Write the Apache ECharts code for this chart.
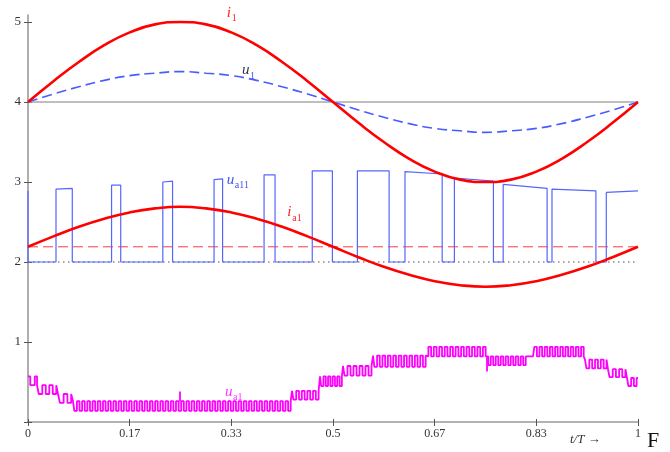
<!DOCTYPE html>
<html><head><meta charset="utf-8">
<script src="https://cdn.jsdelivr.net/npm/echarts@6/dist/echarts.min.js"></script>
<style>html,body{margin:0;padding:0;background:#fff}#c{width:670px;height:452px}</style>
</head><body><div id="c"></div>
<script>
// ---- data ----
const xTickValues = [0, 1/6, 2/6, 0.5, 4/6, 5/6, 1];
const xTickLabels = ['0', '0.17', '0.33', '0.5', '0.67', '0.83', '1'];
const yTickValues = [0, 1, 2, 3, 4, 5];
const yLabelValues = [1, 2, 3, 4, 5];

const tSamples = [0,0.0417,0.0833,0.125,0.1667,0.2083,0.25,0.2917,0.3333,0.375,0.4167,0.4583,0.5,
  0.5417,0.5833,0.625,0.6667,0.7083,0.75,0.7917,0.8333,0.875,0.9167,0.9583,1];
const i1Values = [4.00,4.26,4.50,4.71,4.87,4.97,5.00,4.97,4.87,4.71,4.50,4.26,4.00,
  3.74,3.50,3.29,3.13,3.03,3.00,3.03,3.13,3.29,3.50,3.74,4.00];
const u1Values = [4.00,4.10,4.19,4.27,4.33,4.36,4.38,4.36,4.33,4.27,4.19,4.10,4.00,
  3.90,3.81,3.73,3.67,3.64,3.62,3.64,3.67,3.73,3.81,3.90,4.00];
const ia1Values = [2.19,2.32,2.44,2.54,2.62,2.67,2.69,2.67,2.62,2.54,2.44,2.32,2.19,
  2.06,1.94,1.84,1.76,1.71,1.69,1.71,1.76,1.84,1.94,2.06,2.19];

const refLine4 = 4;
const refLine2 = 2;
const ia1Mean = 2.19;

// u_a11 pulses: [rise t, fall t, top at rise, top at fall]; low level 2
const ua11Low = 2;
const ua11Start = 2.89;
const ua11Pulses = [
  [0.0459,0.0726,2.91,2.92],
  [0.137,0.152,2.96,2.96],
  [0.221,0.237,3.00,3.01],
  [0.305,0.319,3.03,3.04],
  [0.387,0.405,3.09,3.09],
  [0.466,0.499,3.14,3.14],
  [0.540,0.592,3.14,3.14],
  [0.618,0.679,3.13,3.10],
  [0.699,0.763,3.05,3.01],
  [0.779,0.851,2.97,2.92],
  [0.859,0.931,2.91,2.89],
  [0.948,1.000,2.87,2.89]
];

// u_a1 staircase segments: [t start, t end, base level, switched level, pulse count]
const ua1Segments = [
  [0.0000,0.0148,0.57,0.46,1],
  [0.0148,0.0492,0.46,0.35,3],
  [0.0492,0.0738,0.35,0.24,2],
  [0.0738,0.4328,0.26,0.14,42],
  [0.4328,0.4787,0.39,0.28,5],
  [0.4787,0.5164,0.57,0.45,5],
  [0.5164,0.5656,0.70,0.58,5],
  [0.5656,0.6541,0.83,0.69,10],
  [0.6541,0.7525,0.82,0.94,11],
  [0.7525,0.8180,0.82,0.71,8],
  [0.8180,0.8279,0.82,0.82,0],
  [0.8279,0.9131,0.82,0.94,10],
  [0.9131,0.9508,0.78,0.67,4],
  [0.9508,0.9820,0.66,0.56,3],
  [0.9820,1.0000,0.55,0.45,2]
];
// single spikes: [t, from, to]
const ua1Spikes = [[0.2492,0.26,0.38],[0.7525,0.82,0.63]];

// labels: [t, value, main, sub, colorMain, colorSub]
const curveLabels = [
  [0.326,5.09,'i','1','#ff2020','#ff2020'],
  [0.351,4.375,'u','1','#333355','#4455ee'],
  [0.326,3.01,'u','a11','#4455ee','#4455ee'],
  [0.425,2.60,'i','a1','#ff2020','#ff2020'],
  [0.323,0.36,'u','a1','#ff33ff','#ff33ff']
];

// ---- build series data ----
const zip = (xs, ys) => xs.map((x, i) => [x, ys[i]]);

const ua11Data = [[0, ua11Start], [0, ua11Low]];
ua11Pulses.forEach(([r, f, a, b], i) => {
  ua11Data.push([r, ua11Low], [r, a], [f, b]);
  if (i < ua11Pulses.length - 1) ua11Data.push([f, ua11Low]);
});

const ua1Data = [];
ua1Segments.forEach(([t0, t1, base, alt, n]) => {
  ua1Data.push([t0, base]);
  if (n > 0) {
    const p = (t1 - t0) / n;
    for (let k = 0; k < n; k++) {
      const a = t0 + p * (k + 0.25), b = a + p * 0.5;
      ua1Data.push([a, base], [a, alt], [b, alt], [b, base]);
    }
  }
  ua1Data.push([t1, base]);
});

const base = { type: 'line', symbol: 'none', showSymbol: false, silent: true, animation: false, clip: false };

const series = [
  Object.assign({}, base, { name: 'ref4', data: [[0, refLine4], [1, refLine4]], lineStyle: { color: '#a8a8a8', width: 1.6 }, z: 1 }),
  Object.assign({}, base, { name: 'ref2', data: [[0, refLine2], [1, refLine2]], lineStyle: { color: '#8a8a8a', width: 1.5, type: [1.5, 3.5] }, z: 1 }),
  Object.assign({}, base, { name: 'ia1mean', data: [[0, ia1Mean], [1, ia1Mean]], lineStyle: { color: '#ff3b3b', width: 1, type: [10, 5] }, z: 2 }),
  Object.assign({}, base, { name: 'ua11', data: ua11Data, lineStyle: { color: '#5566ff', width: 1.2 }, z: 3 }),
  Object.assign({}, base, { name: 'u1', data: zip(tSamples, u1Values), smooth: true, lineStyle: { color: '#4a5cff', width: 1.6, type: [10, 5] }, z: 4 }),
  Object.assign({}, base, { name: 'i1', data: zip(tSamples, i1Values), smooth: true, lineStyle: { color: '#ff0000', width: 2.6 }, z: 5 }),
  Object.assign({}, base, { name: 'ia1', data: zip(tSamples, ia1Values), smooth: true, lineStyle: { color: '#ff0000', width: 2.6 }, z: 5 }),
  Object.assign({}, base, { name: 'ua1', data: ua1Data, lineStyle: { color: '#ff00ff', width: 1.8 }, z: 4 })
];
ua1Spikes.forEach(([t, a, b], i) => {
  series.push(Object.assign({}, base, { name: 'spike' + i, data: [[t, a], [t, b]], lineStyle: { color: '#ff00ff', width: 1.8 }, z: 4 }));
});

const serif = '"Liberation Serif", "DejaVu Serif", serif';
const xAxisCommon = {
  type: 'value', min: 0, max: 1, position: 'bottom', splitLine: { show: false }
};
const yAxisCommon = {
  type: 'value', min: 0, max: 5.0875, position: 'left', splitLine: { show: false }
};

const chart = echarts.init(document.getElementById('c'));
chart.setOption({
  animation: false,
  backgroundColor: '#fff',
  grid: { left: 28, right: 32, top: 15, height: 407, containLabel: false, outerBoundsMode: 'none' },
  xAxis: [
    Object.assign({}, xAxisCommon, {
      axisLine: { show: true, onZero: false, lineStyle: { color: '#9a9a9a', width: 1.6 } },
      axisTick: { show: true, customValues: xTickValues, length: 4, lineStyle: { color: '#555', width: 1 } },
      axisLabel: { customValues: xTickValues, formatter: v => xTickLabels[Math.round(v * 6)], fontFamily: serif, fontSize: 12, color: '#333', margin: 6 }
    }),
    Object.assign({}, xAxisCommon, {
      axisLine: { show: false, onZero: false },
      axisTick: { show: true, inside: true, customValues: xTickValues, length: 3, lineStyle: { color: '#555', width: 1 } },
      axisLabel: { show: false }
    })
  ],
  yAxis: [
    Object.assign({}, yAxisCommon, {
      axisLine: { show: true, onZero: false, lineStyle: { color: '#9a9a9a', width: 1.6 } },
      axisTick: { show: true, customValues: yTickValues, length: 4, lineStyle: { color: '#555', width: 1 } },
      axisLabel: { customValues: yLabelValues, fontFamily: serif, fontSize: 13, color: '#333', margin: 7 }
    }),
    Object.assign({}, yAxisCommon, {
      axisLine: { show: false, onZero: false },
      axisTick: { show: true, inside: true, customValues: yTickValues, length: 4, lineStyle: { color: '#555', width: 1 } },
      axisLabel: { show: false }
    })
  ],
  series: series
});

// annotation texts positioned through the axes' scales
const graphics = [];
curveLabels.forEach(([t, v, m, s, cm, cs]) => {
  const [px, py] = chart.convertToPixel({ gridIndex: 0 }, [t, v]);
  const mw = m === 'i' ? 5 : 8;
  graphics.push({ type: 'text', left: px, top: py - 9, style: { text: m, font: 'italic 15px ' + serif, fill: cm } });
  graphics.push({ type: 'text', left: px + mw, top: py - 1, style: { text: s, font: '10px ' + serif, fill: cs } });
});
graphics.push({ type: 'text', left: 570, top: 433, style: { text: 't/T →', font: 'italic 13px ' + serif, fill: '#333' } });
graphics.push({ type: 'text', left: 647, top: 430, style: { text: 'F', font: '22px ' + serif, fill: '#111' } });
chart.setOption({ graphic: graphics });
</script>
</body></html>
